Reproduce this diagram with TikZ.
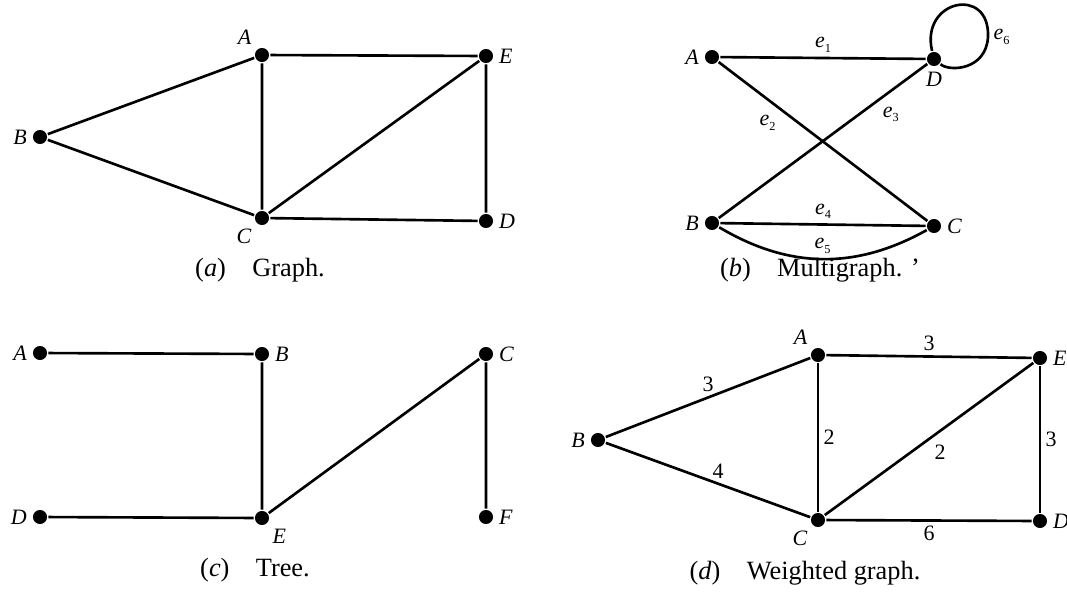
\documentclass[tikz,border=0pt]{standalone}
\usepackage{fontspec}
\setmainfont{Liberation Serif}
\usetikzlibrary{positioning}
\newcommand{\elab}[1]{\textit{e}\raisebox{-0.45ex}{\scriptsize #1}}

\begin{document}
\begin{tikzpicture}[x=0.02cm, y=-0.02cm, line width=1.5pt,
  vtx/.style={circle,fill,inner sep=0pt,minimum size=8pt},
  every label/.style={font=\fontsize{12.5}{14}\selectfont\itshape, inner sep=2pt},
  wt/.style={font=\fontsize{12.5}{14}\selectfont, inner sep=2.5pt},
  captxt/.style={font=\fontsize{15}{17}\selectfont}]
  \useasboundingbox (0,0) rectangle (1067,599);

  % (a) graph
  \node[vtx,label=above left:A] (aA) at (262,55) {};
  \node[vtx,label=right:E] (aE) at (486,56) {};
  \node[vtx,label=left:B] (aB) at (40,137) {};
  \node[vtx,label=below left:C] (aC) at (262,218) {};
  \node[vtx,label=right:D] (aD) at (486,221) {};
  \draw (aB) -- (aA) -- (aE) -- (aD) -- (aC) -- (aB);
  \draw (aA) -- (aC) -- (aE);
  \node[captxt] (capa) at (260,270) {(\textit{a})\quad Graph.};

  % (b) multigraph
  \node[vtx,label=left:A] (bA) at (712,57) {};
  \node[vtx,label=below:D] (bD) at (934,59) {};
  \node[vtx,label=left:B] (bB) at (712,223) {};
  \node[vtx,label=right:C] (bC) at (934,226) {};
  \draw (bA) -- node[wt,above] {\elab{1}} (bD);
  \draw (bA) -- node[wt,pos=0.3,below left] {\elab{2}} (bC);
  \draw (bB) -- node[wt,pos=0.76,below right] {\elab{3}} (bD);
  \draw (bB) -- node[wt,above] {\elab{4}} (bC);
  \draw (bB) to[bend right=30] node[wt,above] {\elab{5}} (bC);
  % loop at D
  \coordinate (loopR) at (988,37);
  \draw (bD) .. controls (920,0) and (990,-15) .. (loopR)
    .. controls (986,70) and (950,72) .. (bD);
  \node[wt,right] (e6) at (loopR) {\elab{6}};
  \node[captxt] (capb) at (820,270) {(\textit{b})\quad Multigraph. ’};

  % (c) tree
  \node[vtx,label=left:A] (cA) at (40,353) {};
  \node[vtx,label=right:B] (cB) at (262,354) {};
  \node[vtx,label=right:C] (cC) at (486,354) {};
  \node[vtx,label=left:D] (cD) at (40,517) {};
  \node[vtx,label=below right:E] (cE) at (262,518) {};
  \node[vtx,label=right:F] (cF) at (486,517) {};
  \draw (cA) -- (cB) -- (cE) -- (cD);
  \draw (cE) -- (cC) -- (cF);
  \node[captxt] (capc) at (255,570) {(\textit{c})\quad Tree.};

  % (d) weighted graph
  \node[vtx,label=above left:A] (dA) at (818,355) {};
  \node[vtx,label=right:E] (dE) at (1040,358) {};
  \node[vtx,label=left:B] (dB) at (598,440) {};
  \node[vtx,label=below left:C] (dC) at (818,520) {};
  \node[vtx,label=right:D] (dD) at (1040,521) {};
  \draw (dB) -- node[wt,above] {3} (dA);
  \draw (dA) -- node[wt,above] {3} (dE);
  \draw (dA) -- node[wt,right] {2} (dC);
  \draw (dC) -- node[wt,below right] {2} (dE);
  \draw (dE) -- node[wt,right] {3} (dD);
  \draw (dB) -- node[wt,pos=0.55,above] {4} (dC);
  \draw (dC) -- node[wt,below] {6} (dD);
  \node[captxt] (capd) at (805,573) {(\textit{d})\quad Weighted graph.};
\end{tikzpicture}
\end{document}
